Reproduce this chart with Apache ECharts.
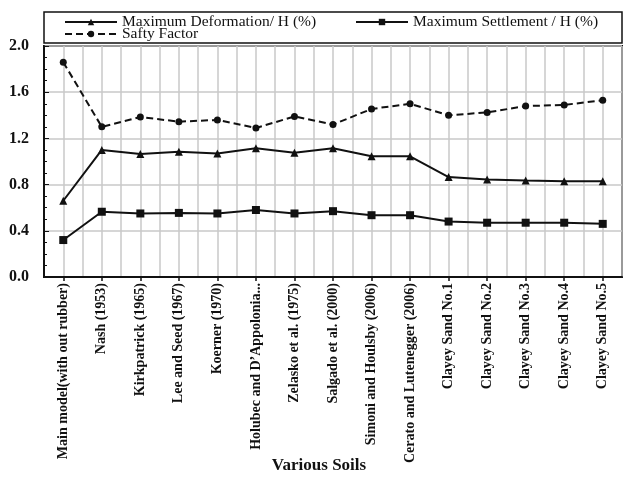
<!DOCTYPE html>
<html>
<head>
<meta charset="utf-8">
<script src="https://cdn.jsdelivr.net/npm/echarts@6/dist/echarts.min.js"></script>
<style>
html,body{margin:0;padding:0;background:#fff;}
#c{width:624px;height:477px;}
</style>
</head>
<body>
<div id="c"></div>
<script>
const categories = ["Main model(with out rubber)", "Nash (1953)", "Kirkpatrick (1965)", "Lee and Seed (1967)", "Koerner (1970)", "Holubec and D\u2019Appolonia...", "Zelasko et al. (1975)", "Salgado et al. (2000)", "Simoni and Houlsby (2006)", "Cerato and Lutenegger (2006)", "Clayey Sand No.1", "Clayey Sand No.2", "Clayey Sand No.3", "Clayey Sand No.4", "Clayey Sand No.5"];
const deformation = [0.66, 1.10, 1.065, 1.085, 1.07, 1.115, 1.075, 1.115, 1.045, 1.045, 0.865, 0.845, 0.835, 0.83, 0.83];
const settlement = [0.32, 0.565, 0.55, 0.555, 0.55, 0.58, 0.55, 0.57, 0.535, 0.535, 0.48, 0.47, 0.47, 0.47, 0.46];
const safety = [1.86, 1.30, 1.385, 1.345, 1.36, 1.29, 1.39, 1.32, 1.455, 1.50, 1.40, 1.425, 1.48, 1.49, 1.53];
const yTicks = [0.0, 0.4, 0.8, 1.2, 1.6, 2.0];
const seriesNames = ["Maximum Deformation/ H (%)", "Maximum Settlement / H (%)", "Safty Factor"];
const axisTitle = "Various Soils";

const FONT = "Liberation Serif";
const halfBands = [];
for (let i = 0; i < categories.length * 2; i++) halfBands.push('');

const chart = echarts.init(document.getElementById('c'), null, {renderer: 'canvas'});
const legendText = {fontFamily: FONT, fontSize: 15.5, color: '#111'};
chart.setOption({
  backgroundColor: '#fff',
  animation: false,
  grid: {left: 44, right: 2, top: 46, bottom: 200, show: true, borderColor: '#111', borderWidth: 2, backgroundColor: 'transparent'},
  legend: [
    {data: [seriesNames[0]], left: 64, top: 14, itemWidth: 52, itemHeight: 8, itemGap: 4, textStyle: legendText, padding: 0},
    {data: [seriesNames[1]], left: 355, top: 14, itemWidth: 52, itemHeight: 8, textStyle: legendText, padding: 0},
    {data: [seriesNames[2]], left: 64, top: 26, itemWidth: 52, itemHeight: 8, textStyle: legendText, padding: 0}
  ],
  graphic: [
    {type: 'rect', shape: {x: 44, y: 12, width: 578, height: 31}, style: {fill: 'none', stroke: '#111', lineWidth: 1.5}, z: 100},
    {type: 'text', x: 319, y: 466, style: {text: axisTitle, font: 'bold 17px "Liberation Serif"', fill: '#111', textAlign: 'center', textVerticalAlign: 'middle'}}
  ],
  xAxis: [
    {
      type: 'category', data: categories, boundaryGap: true,
      axisLine: {show: true, lineStyle: {color: '#111', width: 2}},
      axisTick: {show: true, alignWithLabel: true, length: 4, lineStyle: {color: '#111', width: 1.5}},
      axisLabel: {interval: 0, rotate: 90, margin: 6, fontFamily: FONT, fontWeight: 'bold', fontSize: 14, color: '#111'},
      splitLine: {show: false}
    },
    {
      type: 'category', data: halfBands, boundaryGap: true, position: 'top',
      axisLine: {show: false}, axisTick: {show: false}, axisLabel: {show: false},
      splitLine: {show: true, interval: 0, lineStyle: {color: '#c8c8c8', width: 1.5}}
    }
  ],
  yAxis: {
    type: 'value', min: 0, max: 2.0, interval: 0.4,
    axisLine: {show: true, lineStyle: {color: '#111', width: 2}},
    axisTick: {show: true, inside: true, length: 5, lineStyle: {color: '#111'}},
    minorTick: {show: true, splitNumber: 4, length: 3, lineStyle: {color: '#111'}},
    axisLabel: {margin: 15, fontFamily: FONT, fontWeight: 'bold', fontSize: 16, color: '#111',
      formatter: v => yTicks.indexOf(Math.round(v*10)/10) >= 0 ? v.toFixed(1) : ''},
    splitLine: {show: true, lineStyle: {color: '#c8c8c8', width: 1.5}}
  },
  series: [
    {name: seriesNames[0], type: 'line', data: deformation, symbol: 'triangle', symbolSize: 8,
     itemStyle: {color: '#111'}, lineStyle: {color: '#111', width: 2}},
    {name: seriesNames[1], type: 'line', data: settlement, symbol: 'rect', symbolSize: 8,
     itemStyle: {color: '#111'}, lineStyle: {color: '#111', width: 2}},
    {name: seriesNames[2], type: 'line', data: safety, symbol: 'circle', symbolSize: 7,
     itemStyle: {color: '#111'}, lineStyle: {color: '#111', width: 2, type: [7, 4]}}
  ]
});
</script>
</body>
</html>
